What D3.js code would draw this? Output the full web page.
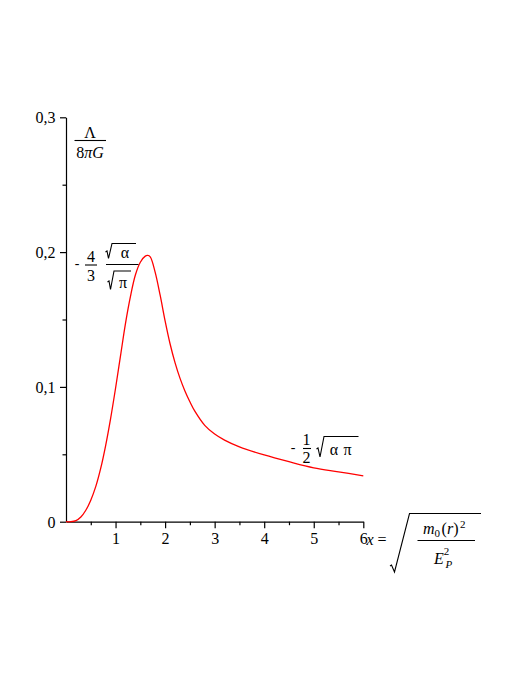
<!DOCTYPE html>
<html>
<head>
<meta charset="utf-8">
<script src="https://cdn.jsdelivr.net/npm/d3@7"></script>
<style>
  body { margin: 0; background: #fff; }
  text { font-family: "Liberation Serif", "Times New Roman", serif; fill: #000; }
</style>
</head>
<body>
<svg id="chart" width="526" height="681"></svg>
<script>
// curve values
let xValues = [0, 0.1, 0.2, 0.3, 0.4, 0.5, 0.6, 0.7, 0.8, 0.9, 1.0, 1.1, 1.2, 1.3, 1.4, 1.5, 1.6, 1.65, 1.7, 1.8, 1.9, 2.0, 2.1, 2.2, 2.3, 2.4, 2.5, 2.6, 2.8, 3.0, 3.2, 3.5, 4.0, 4.5, 5.0, 5.5, 6.0];
let yValues = [0, 0, 0.0008, 0.0035, 0.0085, 0.016, 0.026, 0.0395, 0.0565, 0.0765, 0.099, 0.123, 0.147, 0.167, 0.183, 0.1925, 0.197, 0.1975, 0.1965, 0.185, 0.168, 0.149, 0.132, 0.118, 0.1065, 0.097, 0.089, 0.082, 0.0715, 0.065, 0.0605, 0.0555, 0.0495, 0.0445, 0.040, 0.037, 0.034];

let xTicks = [1, 2, 3, 4, 5, 6];
let xMinorTicks = [0.5, 1.5, 2.5, 3.5, 4.5, 5.5];
let yTicks = [0, 0.1, 0.2, 0.3];
let yTickLabels = ["0", "0,1", "0,2", "0,3"];
let yMinorTicks = [0.05, 0.15, 0.25];

let svg = d3.select("#chart");

let x = d3.scaleLinear().domain([0, 6]).range([66, 363.3]);
let y = d3.scaleLinear().domain([0, 0.3]).range([521.7, 117.3]);

// axes
let xAxis = d3.axisBottom(x)
    .tickValues(xTicks)
    .tickFormat(d3.format("d"))
    .tickSize(6.5)
    .tickSizeOuter(0)
    .tickPadding(4);

let xAxisG = svg.append("g")
    .attr("transform", "translate(0," + y(0) + ")")
    .call(xAxis);

svg.append("g")
    .attr("transform", "translate(0," + y(0) + ")")
    .call(d3.axisBottom(x).tickValues(xMinorTicks).tickFormat("").tickSize(3.5).tickSizeOuter(0))
    .select(".domain").remove();

let yAxis = d3.axisLeft(y)
    .tickValues(yTicks)
    .tickFormat((d, i) => yTickLabels[i])
    .tickSize(6)
    .tickSizeOuter(0)
    .tickPadding(4.5);

let yAxisG = svg.append("g")
    .attr("transform", "translate(" + x(0) + ",0)")
    .call(yAxis);

svg.append("g")
    .attr("transform", "translate(" + x(0) + ",0)")
    .call(d3.axisLeft(y).tickValues(yMinorTicks).tickFormat("").tickSize(3.5).tickSizeOuter(0))
    .select(".domain").remove();

svg.selectAll(".domain, .tick line")
    .attr("stroke", "#000")
    .attr("stroke-width", 1.2);

svg.selectAll(".tick text")
    .attr("font-family", "Liberation Serif, Times New Roman, serif")
    .attr("font-size", 16)
    .attr("fill", "#000");

yAxisG.selectAll(".tick text").attr("dy", "0.34em");

// the curve
let line = d3.line()
    .x((d, i) => x(xValues[i]))
    .y(d => y(d))
    .curve(d3.curveCatmullRom.alpha(0.5));

svg.append("path")
    .datum(yValues)
    .attr("d", line)
    .attr("fill", "none")
    .attr("stroke", "#ff0000")
    .attr("stroke-width", 1.3);

// math labels
function txt(tx, ty, s, opts) {
    opts = opts || {};
    return svg.append("text")
        .attr("x", tx)
        .attr("y", ty)
        .attr("text-anchor", opts.anchor || "middle")
        .attr("font-size", opts.size || 16)
        .attr("font-style", opts.italic ? "italic" : "normal")
        .text(s);
}
function bar(x1, x2, yy) {
    svg.append("line")
        .attr("x1", x1).attr("x2", x2)
        .attr("y1", yy).attr("y2", yy)
        .attr("stroke", "#000")
        .attr("stroke-width", 1.1);
}
function radical(x0, yMid, xBottom, yBottom, xTop, yTop, xEnd) {
    svg.append("path")
        .attr("d", "M" + x0 + "," + yMid + "L" + (x0 + 1.5) + "," + (yMid - 1) +
              "L" + xBottom + "," + yBottom + "L" + xTop + "," + yTop + "H" + xEnd)
        .attr("fill", "none")
        .attr("stroke", "#000")
        .attr("stroke-width", 1.1);
}

// Lambda / 8 pi G
txt(90, 137.5, "\u039B");
bar(74.5, 106, 140.5);
let t8 = txt(90, 157.5, "8");
t8.append("tspan").attr("font-style", "italic").text("\u03C0G");

// - 4/3 sqrt(alpha)/sqrt(pi)
txt(77, 268, "-", { size: 14 });
txt(91, 261.5, "4");
bar(85, 97, 265);
txt(91, 280.5, "3");
radical(105.5, 252, 108.5, 258.5, 112, 243.5, 136);
txt(125, 258, "\u03B1");
bar(106, 138.5, 264.5);
radical(107.5, 282, 110.5, 289.5, 114, 271, 131);
txt(123, 288, "\u03C0");

// - 1/2 sqrt(alpha pi)
txt(293, 452, "-", { size: 14 });
txt(306.5, 445, "1");
bar(303, 311, 448.5);
txt(306.5, 463, "2");
radical(316.5, 449, 320, 457, 324, 436.5, 358.5);
txt(334, 455, "\u03B1");
txt(347.5, 455, "\u03C0");

// x = sqrt(m0(r)^2 / E_P^2)
txt(366.5, 545, "x", { italic: true, anchor: "start" });
txt(382, 545, "=");
radical(390, 566, 394.5, 572, 409.5, 513.5, 481);
let num = svg.append("text").attr("x", 423).attr("y", 533.5).attr("font-size", 16);
num.append("tspan").attr("font-style", "italic").text("m");
num.append("tspan").attr("font-size", 11).attr("dy", 3).text("0");
num.append("tspan").attr("dy", -3).attr("dx", 1.5).text("(");
num.append("tspan").attr("font-style", "italic").text("r");
num.append("tspan").text(")");
num.append("tspan").attr("font-size", 11).attr("dy", -6).attr("dx", 1.5).text("2");
bar(417.5, 475, 540.5);
let den = svg.append("text").attr("x", 434).attr("y", 563.5).attr("font-size", 16);
den.append("tspan").attr("font-style", "italic").text("E");
den.append("tspan").attr("font-size", 11).attr("dy", -9).text("2");
den.append("tspan").attr("font-size", 11).attr("font-style", "italic").attr("x", 445.5).attr("dy", 13).text("P");
</script>
</body>
</html>
